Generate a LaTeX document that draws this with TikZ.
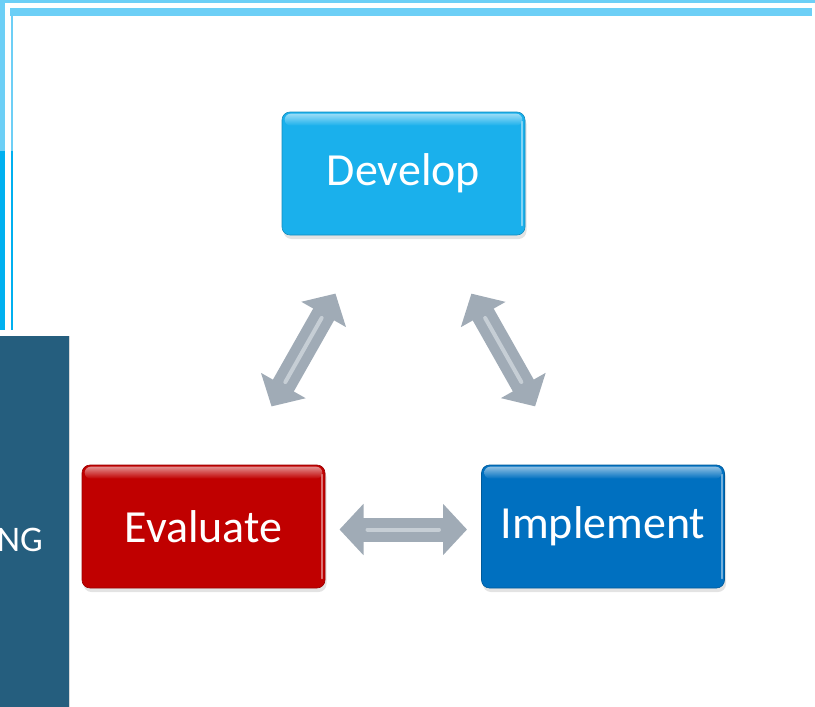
\documentclass[tikz,border=0pt]{standalone}
\usepackage{fontspec}
\setmainfont{Carlito}
\usetikzlibrary{arrows.meta,shadows}
\definecolor{lightline}{HTML}{6DCFF6}
\definecolor{brightline}{HTML}{00B0F0}
\definecolor{panel}{HTML}{255E7E}
\definecolor{devc}{HTML}{1AB0EC}
\definecolor{evac}{HTML}{C00000}
\definecolor{impc}{HTML}{0070C0}
\definecolor{arrowc}{HTML}{A0ABB6}
\definecolor{arrowhi}{HTML}{C6CED5}
\begin{document}
\begin{tikzpicture}[x=1pt,y=-1pt,
  stage/.style={draw=#1!80!black, line width=0.6pt, fill=#1, rounded corners=8pt,
    minimum width=243pt, minimum height=123pt, inner sep=0pt, text=white,
    font=\fontsize{46}{52}\selectfont,
    drop shadow={opacity=0.22, shadow xshift=1.5pt, shadow yshift=-4pt}},
  gloss/.style={top color=white!55!#1, bottom color=#1, rounded corners=6pt, draw=none},
  edgehi/.style={draw=white!45!#1, line width=2pt, line cap=round},
  twoway/.style={draw=arrowc, line width=24pt,
    {Triangle[length=24pt,width=50pt]}-{Triangle[length=24pt,width=50pt]}},
  twowayhi/.style={draw=arrowhi, line width=4pt, line cap=round},
  ngtext/.style={text=white, font=\fontsize{36}{42}\selectfont, inner sep=0pt}
]
\useasboundingbox (0,0) rectangle (815,707);
% frame lines
\fill[lightline] (0,0) rectangle (815,2.5);
\fill[lightline] (0,0) rectangle (5,151);
\fill[brightline] (0,151) rectangle (5,330);
\fill[lightline] (10,8) rectangle (812,16);
\fill[lightline] (11,16) rectangle (13,151);
\fill[brightline] (11,151) rectangle (13,330);
% side panel
\fill[panel] (0,336) rectangle (69,707);
\draw[black!15, line width=1pt] (69.5,336) -- (69.5,707);
\node[ngtext, anchor=base east] (ng) at (43,551) {NG};
% stages
\node[stage=devc] (dev) at (403.5,173.5) {Develop};
\node[stage=evac] (eva) at (203.5,526.5) {Evaluate};
\node[stage=impc] (imp) at (603,526.5) {Implement};
\foreach \n/\c in {dev/devc, eva/evac, imp/impc}{
  \path[gloss=\c] ([shift={(3,2)}]\n.north west) rectangle ([shift={(-3,14)}]\n.north east);
  \draw[edgehi=\c] ([shift={(-3,10)}]\n.north east) -- ([shift={(-3,-10)}]\n.south east);
}
% connectors
\draw[twoway, shorten <=138pt, shorten >=138pt] (dev.center) -- (eva.center);
\draw[twoway, shorten <=138pt, shorten >=138pt] (dev.center) -- (imp.center);
\draw[twoway, shorten <=136pt, shorten >=136pt] ([yshift=-3pt]eva.center) -- ([yshift=-3pt]imp.center);
\draw[twowayhi, shorten <=166pt, shorten >=166pt] (dev.center) -- (eva.center);
\draw[twowayhi, shorten <=166pt, shorten >=166pt] (dev.center) -- (imp.center);
\draw[twowayhi, shorten <=164pt, shorten >=164pt] ([yshift=-3pt]eva.center) -- ([yshift=-3pt]imp.center);
\end{tikzpicture}
\end{document}
